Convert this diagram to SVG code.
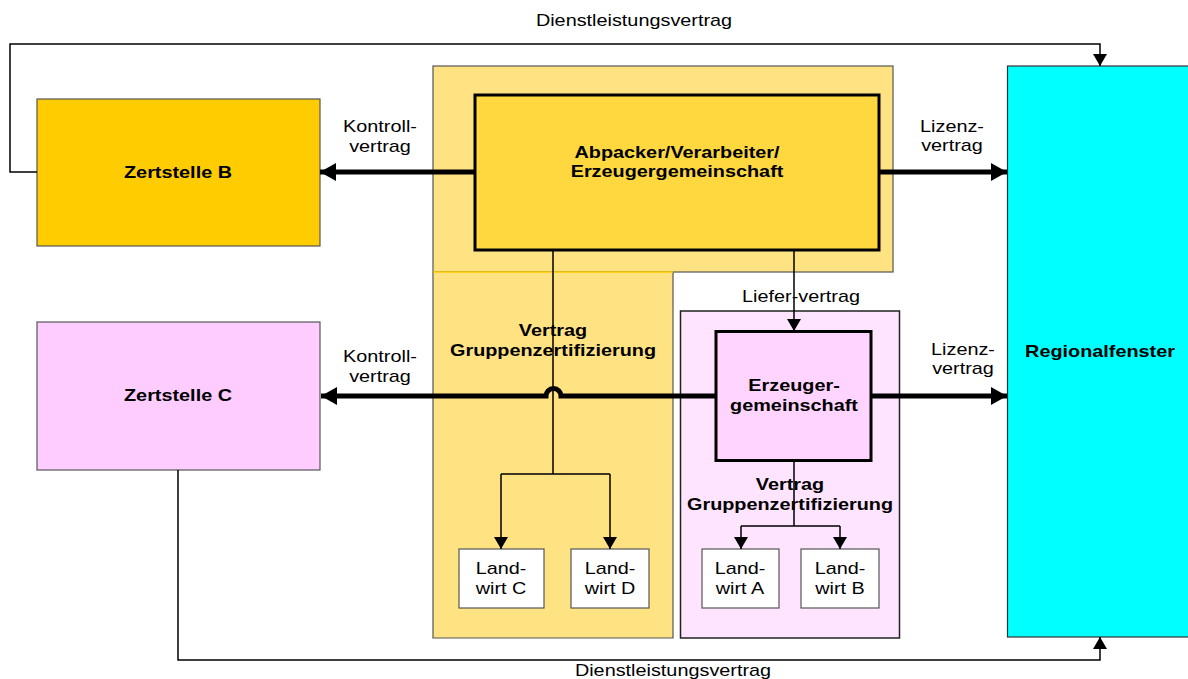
<svg xmlns="http://www.w3.org/2000/svg" width="1188" height="679" viewBox="0 0 1188 679">
<style>
.t{font-family:"Liberation Sans",Arial,sans-serif;font-size:16px;fill:#000;text-anchor:middle}
.b{font-weight:bold}
.thin{fill:none;stroke:#000;stroke-width:1.5}
.thick{fill:none;stroke:#000;stroke-width:5}
.box{stroke:#555;stroke-width:1.2}
</style>
<defs>
<marker id="ah" markerUnits="userSpaceOnUse" markerWidth="17" markerHeight="19" refX="16" refY="9" orient="auto"><path d="M0,0 L16,9 L0,18 z" fill="#000"/></marker>
<marker id="as" markerUnits="userSpaceOnUse" markerWidth="13" markerHeight="15" refX="12" refY="7" orient="auto"><path d="M0,0 L12,7 L0,14 z" fill="#000"/></marker>
</defs>
<rect width="1188" height="679" fill="#fff"/>

<g id="bg-yellow">
<rect x="433" y="66" width="460" height="206" fill="#FFE383" class="box"/>
<rect x="433" y="272" width="240" height="366" fill="#FFE383" stroke="none"/>
<path d="M433,272 V638 H673 V272" fill="none" stroke="#555" stroke-width="1.2"/>
<path d="M433,272 H673" stroke="#FFCC00" stroke-width="1.5"/>
</g>
<g id="bg-pink">
<rect x="680.5" y="311" width="219" height="327" fill="#FFE4FF" stroke="#222" stroke-width="1.5"/>
</g>

<g id="zertstelle-b">
<rect x="37" y="99" width="283" height="147" fill="#FFCC00" class="box"/>
<text class="t b" transform="translate(178,178) scale(1.24,1)">Zertstelle B</text>
</g>
<g id="zertstelle-c">
<rect x="37" y="322" width="283" height="148" fill="#FFCCFF" class="box"/>
<text class="t b" transform="translate(178,401) scale(1.24,1)">Zertstelle C</text>
</g>
<g id="abpacker">
<rect x="475" y="95" width="404" height="155" fill="#FFD83F" stroke="#000" stroke-width="3"/>
<text class="t b" transform="translate(677,158) scale(1.24,1)"><tspan x="0" y="0">Abpacker/Verarbeiter/</tspan><tspan x="0" y="19">Erzeugergemeinschaft</tspan></text>
</g>
<g id="erzeugergemeinschaft">
<rect x="716" y="331.5" width="155" height="129" fill="#FFD5FF" stroke="#000" stroke-width="3"/>
<text class="t b" transform="translate(794,391) scale(1.24,1)"><tspan x="0" y="0">Erzeuger-</tspan><tspan x="0" y="20">gemeinschaft</tspan></text>
</g>
<g id="regionalfenster">
<rect x="1007.5" y="66" width="185" height="571" fill="#00FFFF" stroke="#333" stroke-width="1.2"/>
<text class="t b" transform="translate(1100,357) scale(1.24,1)">Regionalfenster</text>
</g>
<g id="landwirt-c">
<rect x="459" y="549" width="85" height="59" fill="#fff" class="box"/>
<text class="t" transform="translate(501,574) scale(1.24,1)"><tspan x="0" y="0">Land-</tspan><tspan x="0" y="20">wirt C</tspan></text>
</g>
<g id="landwirt-d">
<rect x="571" y="549" width="78" height="59" fill="#fff" class="box"/>
<text class="t" transform="translate(610,574) scale(1.24,1)"><tspan x="0" y="0">Land-</tspan><tspan x="0" y="20">wirt D</tspan></text>
</g>
<g id="landwirt-a">
<rect x="702" y="549" width="77" height="59" fill="#fff" class="box"/>
<text class="t" transform="translate(740,574) scale(1.24,1)"><tspan x="0" y="0">Land-</tspan><tspan x="0" y="20">wirt A</tspan></text>
</g>
<g id="landwirt-b">
<rect x="801" y="549" width="78" height="59" fill="#fff" class="box"/>
<text class="t" transform="translate(840,574) scale(1.24,1)"><tspan x="0" y="0">Land-</tspan><tspan x="0" y="20">wirt B</tspan></text>
</g>

<g id="connectors">
<path class="thin" d="M37,172 H10 V44 H1100 V66" marker-end="url(#as)"/>
<path class="thin" d="M178,470 V660 H1100 V637" marker-end="url(#as)"/>
<path class="thick" d="M475,172 H320" marker-end="url(#ah)"/>
<path class="thick" d="M879,172 H1007" marker-end="url(#ah)"/>
<path class="thick" d="M716,396 H561 A7.5,7.5 0 0 0 546,396 H321" marker-end="url(#ah)"/>
<path class="thick" d="M871,396 H1007" marker-end="url(#ah)"/>
<path class="thin" d="M794,250 V331" marker-end="url(#as)"/>
<path class="thin" d="M553,250 V474 M501,474 H610"/>
<path class="thin" d="M501,474 V549" marker-end="url(#as)"/>
<path class="thin" d="M610,474 V549" marker-end="url(#as)"/>
<path class="thin" d="M794,461 V526 M741,526 H840"/>
<path class="thin" d="M741,526 V549" marker-end="url(#as)"/>
<path class="thin" d="M840,526 V549" marker-end="url(#as)"/>
</g>

<g id="labels">
<text class="t" transform="translate(634,26) scale(1.24,1)">Dienstleistungsvertrag</text>
<text class="t" transform="translate(673,676) scale(1.24,1)">Dienstleistungsvertrag</text>
<text class="t" transform="translate(380,132) scale(1.24,1)"><tspan x="0" y="0">Kontroll-</tspan><tspan x="0" y="20">vertrag</tspan></text>
<text class="t" transform="translate(380,362) scale(1.24,1)"><tspan x="0" y="0">Kontroll-</tspan><tspan x="0" y="20">vertrag</tspan></text>
<text class="t" transform="translate(952,132) scale(1.24,1)"><tspan x="0" y="0">Lizenz-</tspan><tspan x="0" y="19">vertrag</tspan></text>
<text class="t" transform="translate(963,355) scale(1.24,1)"><tspan x="0" y="0">Lizenz-</tspan><tspan x="0" y="19">vertrag</tspan></text>
<text class="t" transform="translate(801,302) scale(1.24,1)">Liefer-vertrag</text>
<text class="t b" transform="translate(553,336) scale(1.24,1)"><tspan x="0" y="0">Vertrag</tspan><tspan x="0" y="20">Gruppenzertifizierung</tspan></text>
<text class="t b" transform="translate(790,490) scale(1.24,1)"><tspan x="0" y="0">Vertrag</tspan><tspan x="0" y="20">Gruppenzertifizierung</tspan></text>
</g>
</svg>
